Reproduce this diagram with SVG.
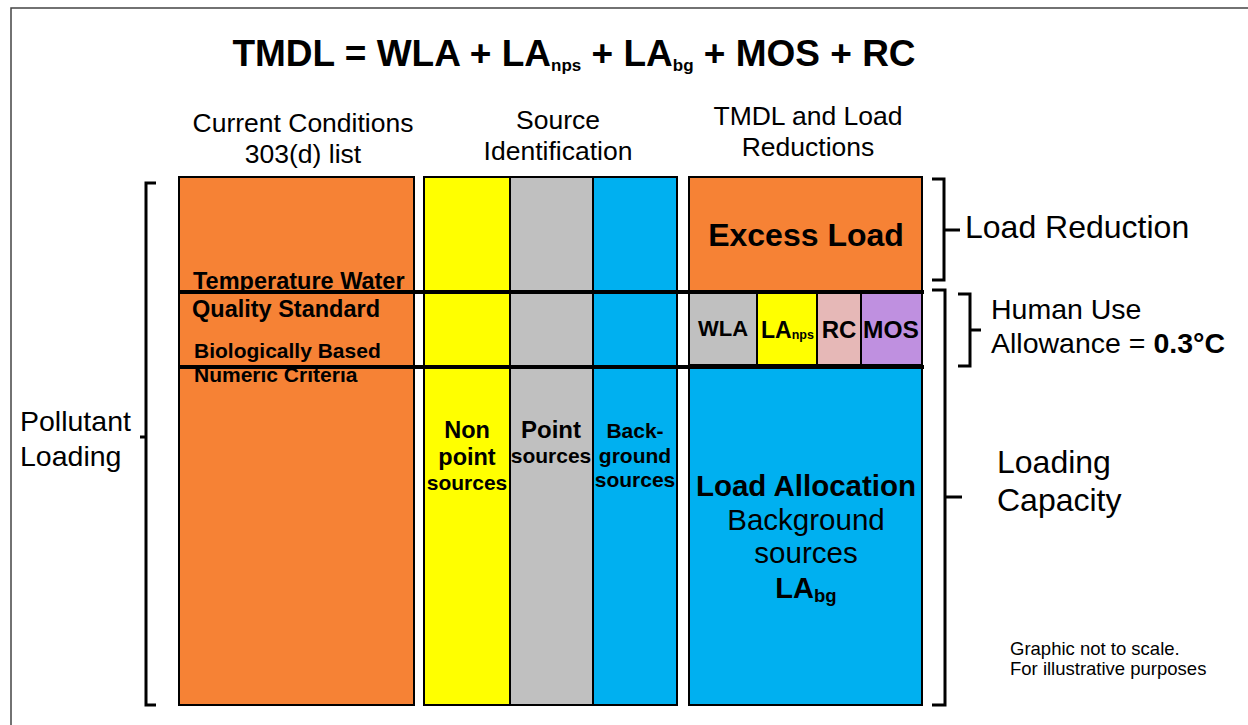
<svg xmlns="http://www.w3.org/2000/svg" width="1248" height="725" viewBox="0 0 1248 725">
<style>
text{font-family:"Liberation Sans",Arial,sans-serif;fill:#000}
.b{font-weight:bold}
.c{text-anchor:middle}
.box{stroke:#000;stroke-width:2}
.br{fill:none;stroke:#000;stroke-width:3;stroke-linejoin:miter}
.hl{stroke:#000;stroke-width:4}
</style>
<rect width="1248" height="725" fill="#fff"/>
<path d="M11,725 V8 H1248" fill="none" stroke="#444" stroke-width="1.5"/>
<text x="574" y="66" class="b c" font-size="37">TMDL = WLA + LA<tspan font-size="17" dy="5">nps</tspan><tspan dy="-5"> + LA</tspan><tspan font-size="17" dy="5">bg</tspan><tspan dy="-5"> + MOS + RC</tspan></text>
<g id="headers">
<text x="303" y="132" class="c" font-size="26.5">Current Conditions</text>
<text x="303" y="163" class="c" font-size="26.5">303(d) list</text>
<text x="558" y="129" class="c" font-size="26.5">Source</text>
<text x="558" y="160" class="c" font-size="26.5">Identification</text>
<text x="808" y="125" class="c" font-size="26.5">TMDL and Load</text>
<text x="808" y="156" class="c" font-size="26.5">Reductions</text>
</g>
<g id="current">
<rect x="179" y="177" width="235" height="528" fill="#F68235" class="box"/>
<text x="193" y="289" class="b" font-size="23.5">Temperature Water</text>
<text x="192" y="317" class="b" font-size="23.5">Quality Standard</text>
<text x="194" y="358" class="b" font-size="21">Biologically Based</text>
<text x="194" y="382" class="b" font-size="21">Numeric Criteria</text>
</g>
<g id="nonpoint">
<rect x="424" y="177" width="86" height="528" fill="#FFFF00" class="box"/>
<text x="467" y="438" class="b c" font-size="23.5">Non</text>
<text x="467" y="465" class="b c" font-size="23.5">point</text>
<text x="467" y="490" class="b c" font-size="21">sources</text>
</g>
<g id="point">
<rect x="510" y="177" width="83" height="528" fill="#C0C0C0" class="box"/>
<text x="551" y="438" class="b c" font-size="24">Point</text>
<text x="551" y="463" class="b c" font-size="21">sources</text>
</g>
<g id="background">
<rect x="593" y="177" width="84" height="528" fill="#00B0F0" class="box"/>
<text x="635" y="438" class="b c" font-size="21">Back-</text>
<text x="635" y="463" class="b c" font-size="21">ground</text>
<text x="635" y="487" class="b c" font-size="21">sources</text>
</g>
<g id="excess">
<rect x="689" y="177" width="233" height="114" fill="#F68235" class="box"/>
<text x="806" y="246" class="b c" font-size="32">Excess Load</text>
</g>
<g id="wla">
<rect x="689" y="293" width="68" height="72" fill="#C0C0C0" class="box"/>
<text x="723" y="336" class="b c" font-size="22">WLA</text>
</g>
<g id="lanps">
<rect x="757" y="293" width="60" height="72" fill="#FFFF00" class="box"/>
<text x="761" y="338" class="b" font-size="23">LA<tspan font-size="12.5" dy="1">nps</tspan></text>
</g>
<g id="rc">
<rect x="817" y="293" width="44" height="72" fill="#E6B8B7" class="box"/>
<text x="839" y="338" class="b c" font-size="24">RC</text>
</g>
<g id="mos">
<rect x="861" y="293" width="61" height="72" fill="#BF90E0" class="box"/>
<text x="891" y="338" class="b c" font-size="24.5">MOS</text>
</g>
<g id="loadalloc">
<rect x="689" y="367" width="233" height="338" fill="#00B0F0" class="box"/>
<text x="806" y="496" class="b c" font-size="29.5">Load Allocation</text>
<text x="806" y="530" class="c" font-size="29.5">Background</text>
<text x="806" y="563" class="c" font-size="29.5">sources</text>
<text x="806" y="598" class="b c" font-size="29">LA<tspan font-size="18.5" dy="4">bg</tspan></text>
</g>
<g id="connectors">
<line x1="179" y1="292" x2="924" y2="292" class="hl"/>
<line x1="179" y1="367" x2="924" y2="367" class="hl"/>
<path d="M156,183 H146 V705 H156 M146,437 H140" class="br"/>
<path d="M932,179 H944 V280 H932 M944,230 H960" class="br"/>
<path d="M932,290 H945 V705 H932 M945,497 H962" class="br"/>
<path d="M958,294 H970 V366 H958 M970,330 H981" class="br"/>
</g>
<g id="labels">
<text x="965" y="238" font-size="32">Load Reduction</text>
<text x="991" y="319" font-size="28.5">Human Use</text>
<text x="991" y="353" font-size="28.5">Allowance = <tspan class="b">0.3°C</tspan></text>
<text x="997" y="473" font-size="32">Loading</text>
<text x="997" y="511" font-size="32">Capacity</text>
<text x="20" y="431" font-size="28.5">Pollutant</text>
<text x="20" y="466" font-size="28.5">Loading</text>
<text x="1010" y="655" font-size="18.5">Graphic not to scale.</text>
<text x="1010" y="675" font-size="18.5">For illustrative purposes</text>
</g>
</svg>
